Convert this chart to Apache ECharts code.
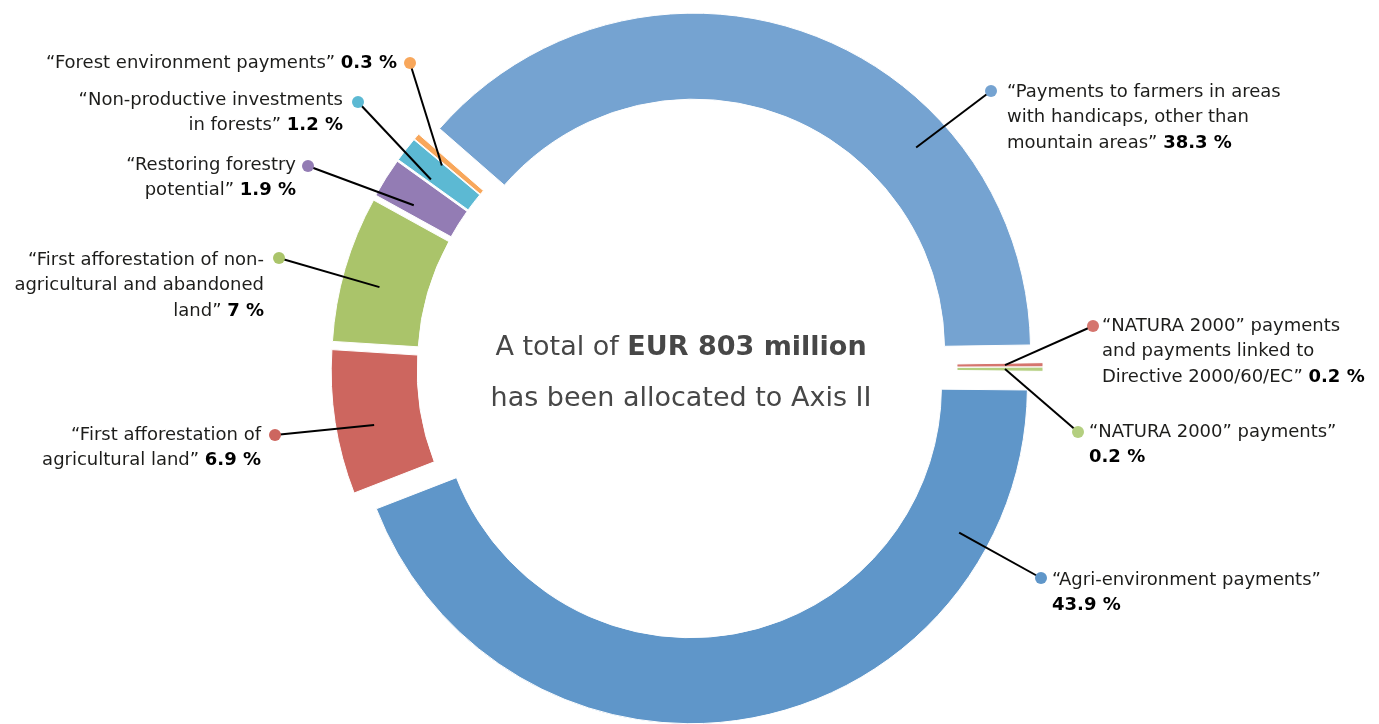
<!DOCTYPE html>
<html>
<head>
<meta charset="utf-8">
<title>Axis II allocation</title>
<script src="https://cdn.jsdelivr.net/npm/echarts@6/dist/echarts.min.js"></script>
<style>
  html, body { margin: 0; padding: 0; background: #fff; }
  #chart { width: 1379px; height: 724px; }
</style>
</head>
<body>
<div id="chart"></div>
<script>
// slices, clockwise from the upper-left edge of the big light blue one
const categories = [
  '“Payments to farmers in areas\nwith handicaps, other than\nmountain areas”',
  '“NATURA 2000” payments\nand payments linked to\nDirective 2000/60/EC”',
  '“NATURA 2000” payments”',
  '“Agri-environment payments”',
  '“First afforestation of\nagricultural land”',
  '“First afforestation of non-\nagricultural and abandoned\nland”',
  '“Restoring forestry\npotential”',
  '“Non-productive investments\nin forests”',
  '“Forest environment payments”'
];
const values = [38.3, 0.2, 0.2, 43.9, 6.9, 7, 1.9, 1.2, 0.3];

const colors = ['#75a3d1', '#d5756e', '#b4cf80', '#5f96c9', '#cd665f', '#aac46a', '#937cb4', '#5cb9d3', '#f8a75b'];

// label placement (px): dot centre, text anchor [x, first line middle, align]
const dotPos = [[991, 91], [1093, 326], [1078, 432], [1041, 578], [275, 435], [279, 258], [308, 166], [358, 102], [410, 63]];
const textPos = [
  [1007, 92, 'left'], [1102, 326, 'left'], [1089, 432, 'left'], [1052, 580, 'left'],
  [261, 435, 'right'], [264, 260, 'right'], [296, 165, 'right'], [343, 100, 'right'], [397, 63, 'right']
];
const valueOnNewLine = [false, false, true, true, false, false, false, false, false];
// leader line start: turn away from the slice middle (degrees, clockwise)
const lineTurn = [26, 0, 0, -48.5, -1.5, -1.5, -1.5, -1.5, -1];

const FONT = 'DejaVu Sans';
const LINE_H = 25.6;
const CENTER = [687, 368];
const START = 138.9;

const chart = echarts.init(document.getElementById('chart'));

function labelText(i) {
  return categories[i] + (valueOnNewLine[i] ? '\n' : ' ') + '{b|' + values[i] + ' %}';
}

function turnPoint(pt, deg) {
  const a = deg * Math.PI / 180;
  const x = pt[0] - CENTER[0], y = pt[1] - CENTER[1];
  return [CENTER[0] + x * Math.cos(a) - y * Math.sin(a), CENTER[1] + x * Math.sin(a) + y * Math.cos(a)];
}

const dotRich = {};
colors.forEach((c, i) => {
  dotRich['d' + i] = { width: 12, height: 12, lineHeight: 12, fontSize: 1, padding: 0, borderRadius: 6, backgroundColor: c };
});

// transparent copy of the pie, carries labels only
function helperPie(radius, extra) {
  return Object.assign({
    type: 'pie',
    z: 4,
    center: CENTER,
    radius: radius,
    startAngle: START,
    clockwise: true,
    silent: true,
    avoidLabelOverlap: false,
    emphasis: { disabled: true },
    itemStyle: { color: 'rgba(0,0,0,0)', borderWidth: 0 },
    data: values.map((v, i) => ({ value: v, name: categories[i] }))
  }, extra);
}

const option = {
  animation: false,
  backgroundColor: '#fff',
  graphic: [{
    type: 'text',
    x: 681,
    y: 373,
    silent: true,
    style: {
      text: 'A total of {b|EUR 803 million}\nhas been allocated to Axis II',
      fontFamily: FONT,
      fontSize: 27,
      lineHeight: 51,
      fill: '#474747',
      textAlign: 'center', align: 'center',
      textVerticalAlign: 'middle', verticalAlign: 'middle',
      rich: {
        b: { fontFamily: FONT, fontSize: 27, lineHeight: 51, fontWeight: 'bold', fill: '#474747', color: '#474747' }
      }
    }
  }],
  series: [
    {
      // the visible ring, every slice pulled out a little
      type: 'pie',
      z: 2,
      center: CENTER,
      radius: [251, 337],
      startAngle: START,
      clockwise: true,
      selectedMode: 'multiple',
      selectedOffset: 19,
      emphasis: { disabled: true },
      itemStyle: { borderColor: '#fff', borderWidth: 1 },
      select: { itemStyle: { borderColor: '#fff', borderWidth: 1 } },
      label: { show: false },
      labelLine: { show: false },
      data: values.map((v, i) => ({
        value: v, name: categories[i], selected: true, itemStyle: { color: colors[i] }
      }))
    },
    // leader lines + coloured dots
    helperPie([0, 318], {
      label: {
        show: true,
        position: 'outside',
        formatter: p => '{d' + p.dataIndex + '| }',
        rich: dotRich
      },
      labelLine: {
        show: true, length: 10, length2: 0, smooth: false,
        lineStyle: { color: '#000', width: 2 }
      },
      labelLayout: p => {
        const i = p.dataIndex;
        const d = dotPos[i];
        const out = { x: d[0], y: d[1], align: 'center', verticalAlign: 'middle' };
        if (p.labelLinePoints && p.labelLinePoints.length) {
          const s = turnPoint(p.labelLinePoints[0], lineTurn[i]);
          out.labelLinePoints = [s, d.slice(), d.slice()];
        }
        return out;
      }
    }),
    // label texts
    helperPie([0, 300], {
      label: {
        show: true,
        position: 'outside',
        formatter: p => labelText(p.dataIndex),
        fontFamily: FONT,
        fontSize: 18,
        lineHeight: LINE_H,
        color: '#1d1d1b',
        rich: {
          b: { fontFamily: FONT, fontSize: 18, lineHeight: LINE_H, fontWeight: 'bold', color: '#000' }
        }
      },
      labelLine: { show: false },
      labelLayout: p => {
        const t = textPos[p.dataIndex];
        return { x: t[0], y: t[1] - LINE_H / 2, align: t[2], verticalAlign: 'top' };
      }
    })
  ]
};

chart.setOption(option);
</script>
</body>
</html>
